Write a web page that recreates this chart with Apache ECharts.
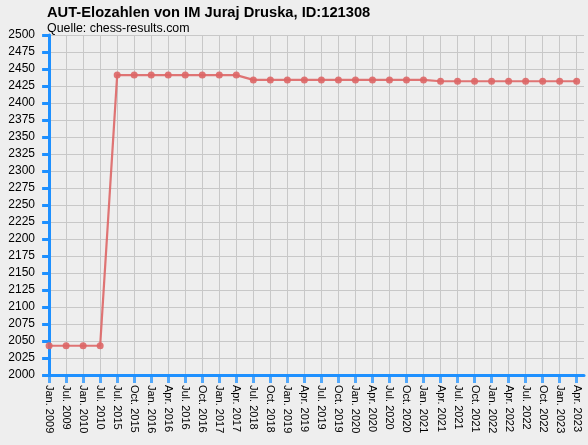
<!DOCTYPE html>
<html>
<head>
<meta charset="utf-8">
<script src="https://cdn.jsdelivr.net/npm/echarts@6/dist/echarts.min.js"></script>
<style>
  html, body { margin: 0; padding: 0; background: #eeeeee; }
  #chart { width: 588px; height: 445px; }
</style>
</head>
<body>
<div id="chart"></div>
<script>
var categories = ['Jan. 2009','Jul. 2009','Jan. 2010','Jul. 2010','Jul. 2015','Oct. 2015','Jan. 2016','Apr. 2016',
  'Jul. 2016','Oct. 2016','Jan. 2017','Apr. 2017','Jul. 2018','Oct. 2018','Jan. 2019','Apr. 2019',
  'Jul. 2019','Oct. 2019','Jan. 2020','Apr. 2020','Jul. 2020','Oct. 2020','Jan. 2021','Apr. 2021',
  'Jul. 2021','Oct. 2021','Jan. 2022','Apr. 2022','Jul. 2022','Oct. 2022','Jan. 2023','Apr. 2023'];
var elo = [2043,2043,2043,2043,2441,2441,2441,2441,
  2441,2441,2441,2441,2434,2434,2434,2434,
  2434,2434,2434,2434,2434,2434,2434,2432,
  2432,2432,2432,2432,2432,2432,2432,2432];
var yTicks = [2000, 2500, 25];

var idx = categories.map(function(c, i){ return i; });
var chart = echarts.init(document.getElementById('chart'));
var axisBlue = '#1e90ff';
chart.setOption({
  backgroundColor: '#eeeeee',
  animation: false,
  textStyle: { fontFamily: 'Liberation Sans, Arial, sans-serif' },
  title: {
    text: 'AUT-Elozahlen von IM Juraj Druska, ID:121308',
    subtext: 'Quelle: chess-results.com',
    left: 42, top: 0,
    itemGap: 3,
    textStyle: { fontSize: 14.7, fontWeight: 'bold', color: '#000' },
    subtextStyle: { fontSize: 12.4, color: '#000' }
  },
  grid: { left: 44, right: 4, top: 35, bottom: 70 },
  xAxis: {
    type: 'value',
    min: -0.3,
    max: 31.43,
    axisLine: { show: true, onZero: false, lineStyle: { color: axisBlue, width: 3 } },
    axisTick: { show: true, length: 8, customValues: idx, lineStyle: { color: axisBlue, width: 3, opacity: 0.75 } },
    axisLabel: {
      customValues: idx,
      rotate: -90,
      margin: 10,
      fontSize: 11,
      color: '#000',
      formatter: function(v){ return categories[Math.round(v)] || ''; }
    },
    splitLine: { show: true, customValues: idx, lineStyle: { color: '#c8c8c8', width: 1 } }
  },
  yAxis: {
    type: 'value',
    min: yTicks[0],
    max: yTicks[1],
    interval: yTicks[2],
    axisLine: { show: true, lineStyle: { color: axisBlue, width: 3 } },
    axisTick: { show: true, length: 7, lineStyle: { color: axisBlue, width: 3 } },
    axisLabel: { fontSize: 12, color: '#000', margin: 9, formatter: function(v){ return String(v); } },
    splitLine: { show: true, lineStyle: { color: '#c8c8c8', width: 1 } }
  },
  series: [{
    type: 'line',
    data: elo.map(function(v, i){ return [i, v]; }),
    symbol: 'circle',
    symbolSize: 7,
    lineStyle: { color: '#dd6666', width: 2.2, opacity: 0.9 },
    itemStyle: { color: '#dd6666', opacity: 0.9 }
  }]
});
</script>
</body>
</html>
